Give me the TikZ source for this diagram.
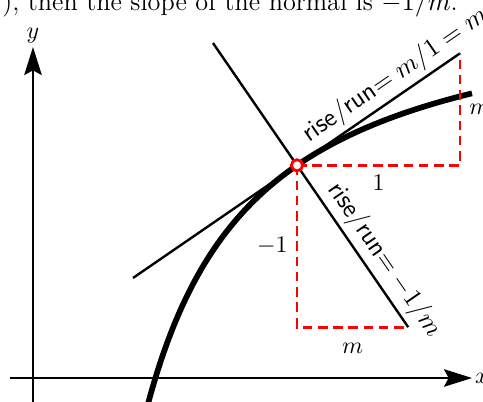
\documentclass[tikz,border=0pt]{standalone}
\usepackage{amsmath}
\usepackage{amssymb}
\usepackage{tikz}
\usetikzlibrary{arrows.meta}

\tikzset{
	axis/.style={line width=0.6pt, -{Stealth[length=11.8pt, width=7.4pt, inset=2pt]}},
	curve/.style={black, line width=2.4pt},
	line/.style={black, line width=1pt},
	guide/.style={red, text=black, line width=1.2pt, dash pattern=on 4pt off 2.4pt},
	slopelab/.style={sloped, above, inner sep=1.8pt, font=\fontsize{11}{13}\selectfont},
	touch/.style={circle, draw=red, fill=white, line width=1.2pt, inner sep=0pt, minimum size=4.7pt}
}

\begin{document}
\begin{tikzpicture}[x=16.8pt,y=16.8pt]
	\useasboundingbox (-0.825,-0.575) rectangle (11.25,9.45);
	\def\xP{6.6}
	\pgfmathsetmacro{\yP}{9.8-29.25/(\xP-0.075)}
	\pgfmathsetmacro{\slope}{29.25/(\xP-0.075)^2}
	\coordinate (P) at (\xP,\yP);
	\coordinate (T1) at ({\xP-4.1},{\yP-4.1*\slope});
	\coordinate (T2) at ({\xP+4.075},{\yP+4.075*\slope});
	\coordinate (N1) at ({\xP-2.1},{\yP+2.1/\slope});
	\coordinate (N2) at ({\xP+2.78},{\yP-2.78/\slope});
	\coordinate (Tc) at (T2 |- P);
	\coordinate (Nc) at (P |- N2);
	\coordinate (xl) at (-0.575,0);
	\coordinate (xr) at (10.975,0);
	\coordinate (yb) at (0,-0.8);
	\coordinate (yt) at (0,8.275);
	\node[anchor=base west, inner sep=0pt, font=\fontsize{11}{13}\selectfont] (txt) at (-0.78,9.175) {), then the slope of the normal is $-1/m$.};
	\draw[axis] (xl) -- (xr);
	\draw[axis] (yb) -- (yt);
	\node (xlab) at (11.22,0) {$x$};
	\node (ylab) at (0,8.55) {$y$};
	\draw[curve] plot[domain=2.85:10.975, samples=120] (\x,{9.8-29.25/(\x-0.075)});
	\draw[line] (T1) -- node[pos=0.835, slopelab] (tlab) {\textsf{rise/run}$=m/1=m$} (T2);
	\draw[line] (N1) -- node[pos=0.8, slopelab] (nlab) {\textsf{rise/run}$=-1/m$} (N2);
	\draw[guide] (P) -- node[below] (one) {$1$} (Tc) -- node[right] (mt) {$m$} (T2);
	\draw[guide] (P) -- node[left] (mone) {$-1$} (Nc) -- node[below=3pt] (mn) {$m$} (N2);
	\node[touch] (Pc) at (P) {};
\end{tikzpicture}
\end{document}
